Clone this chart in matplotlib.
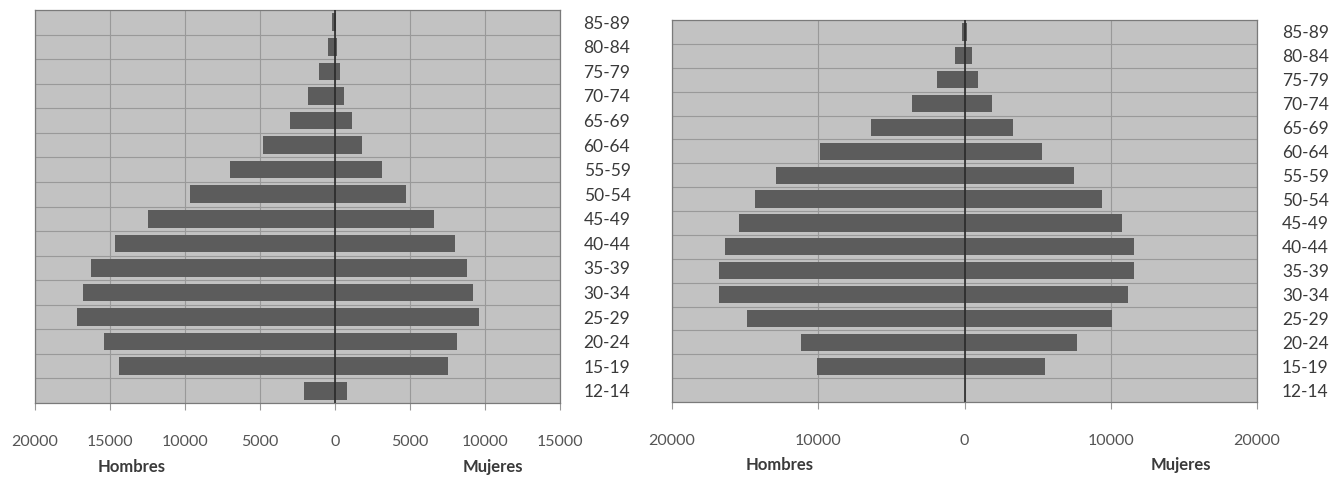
import numpy as np
import matplotlib.pyplot as plt
from matplotlib.ticker import FuncFormatter

# age groups, bottom to top
grupos = ['12-14', '15-19', '20-24', '25-29', '30-34', '35-39', '40-44', '45-49',
          '50-54', '55-59', '60-64', '65-69', '70-74', '75-79', '80-84', '85-89']

# left pyramid
hombres_1 = [2100, 14400, 15400, 17200, 16800, 16300, 14700, 12500,
             9700, 7000, 4800, 3000, 1800, 1050, 480, 220]
mujeres_1 = [800, 7500, 8100, 9600, 9200, 8800, 8000, 6600,
             4700, 3100, 1800, 1100, 600, 330, 120, 80]

# right pyramid
hombres_2 = [0, 10100, 11200, 14900, 16800, 16800, 16400, 15400,
             14300, 12900, 9900, 6400, 3600, 1900, 650, 200]
mujeres_2 = [0, 5500, 7700, 10100, 11200, 11600, 11600, 10800,
             9400, 7500, 5300, 3300, 1900, 900, 500, 150]

xticks_1 = [-20000, -15000, -10000, -5000, 0, 5000, 10000, 15000]
xticks_2 = [-20000, -10000, 0, 10000, 20000]

FONDO = '#c2c2c2'
BARRA = '#5c5c5c'
GRID = '#999999'
TXT = '#3a3a3a'

plt.rcParams['font.family'] = ['Lato', 'DejaVu Sans']


def piramide(ax, hombres, mujeres, xticks, xlim, pad):
    y = np.arange(len(grupos))
    ax.set_facecolor(FONDO)
    ax.barh(y, -np.array(hombres), height=0.72, color=BARRA, zorder=3)
    ax.barh(y, mujeres, height=0.72, color=BARRA, zorder=3)
    ax.axvline(0, color='#2a2a2a', lw=1.2, zorder=4)
    ax.set_xlim(*xlim)
    ax.set_ylim(-0.5, len(grupos) - 0.5)
    for b in np.arange(0.5, len(grupos) - 1, 1):
        ax.axhline(b, color=GRID, lw=0.8, zorder=1)
    for t in xticks:
        ax.axvline(t, color=GRID, lw=0.8, zorder=1)
    ax.set_xticks(xticks)
    ax.xaxis.set_major_formatter(FuncFormatter(lambda v, p: f'{abs(int(v))}'))
    ax.set_yticks(y)
    ax.set_yticklabels(grupos)
    ax.yaxis.tick_right()
    ax.tick_params(axis='y', length=0, pad=pad, labelsize=12.5, labelcolor=TXT)
    ax.tick_params(axis='x', length=5, pad=18, labelsize=11.5, labelcolor='#555555',
                   color=GRID)
    for s in ax.spines.values():
        s.set_color('#7a7a7a')
        s.set_linewidth(0.9)


fig = plt.figure(figsize=(13.39, 4.78), dpi=100)

ax1 = fig.add_axes([35 / 1339, 1 - 403 / 478, 525 / 1339, 393 / 478])
piramide(ax1, hombres_1, mujeres_1, xticks_1, (-20000, 15000), 17)
fig.text(132 / 1339, 1 - 467 / 478, 'Hombres', ha='center', va='center',
         fontsize=12, fontweight='bold', color=TXT)
fig.text(493 / 1339, 1 - 467 / 478, 'Mujeres', ha='center', va='center',
         fontsize=12, fontweight='bold', color=TXT)

ax2 = fig.add_axes([672 / 1339, 1 - 402 / 478, 585 / 1339, 382 / 478])
piramide(ax2, hombres_2, mujeres_2, xticks_2, (-20000, 20000), 18)
fig.text(780 / 1339, 1 - 465 / 478, 'Hombres', ha='center', va='center',
         fontsize=12, fontweight='bold', color=TXT)
fig.text(1181 / 1339, 1 - 465 / 478, 'Mujeres', ha='center', va='center',
         fontsize=12, fontweight='bold', color=TXT)

fig.savefig('out.png', dpi=100)
